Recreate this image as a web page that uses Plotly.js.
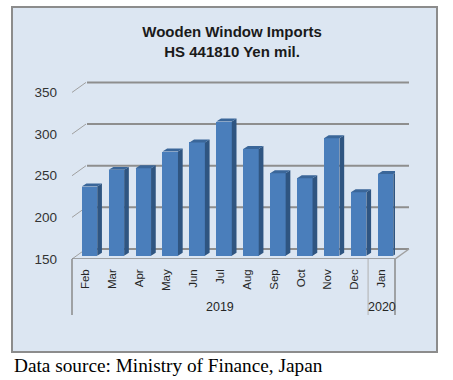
<!DOCTYPE html>
<html>
<head>
<meta charset="utf-8">
<script src="https://cdn.plot.ly/plotly-3.0.1.min.js"></script>
<style>html,body{margin:0;padding:0;background:#fff;}#chart{width:453px;height:380px;}</style>
</head>
<body>
<div id="chart"></div>
<script>
// ---- data ----
const months = ["Feb","Mar","Apr","May","Jun","Jul","Aug","Sep","Oct","Nov","Dec","Jan"];
const years = ["2019","2020"];
const yearOfMonth = ["2019","2019","2019","2019","2019","2019","2019","2019","2019","2019","2019","2020"];
const imports = [233, 253, 255, 275, 286, 311, 278, 249, 243, 291, 226, 248];
const yTicks = [150, 200, 250, 300, 350];

// ---- geometry helpers (styles only) ----
const W = 453, H = 380;
const mL = 72, mR = 58, mT = 80, mB = 121;
const plotW = W - mL - mR, plotH = H - mT - mB;
const yMin = 150, yMax = 364.9;           // front (label) axis
const barShift = 4;                        // bars sit slightly behind the front floor edge
const barOff = -0.139, barW = 0.576;
const depthX = 0.175, depthY = 3.6;
const wallDx = 15, wallDy = 12;           // back wall offset (px, units)
const px2paperX = p => (p - mL) / plotW;
const py2paperY = p => (H - mB - p) / plotH;

const xs = months.map((m, i) => i);

// side & top faces computed from the data
const sideX = [], sideY = [], topX = [], topY = [];
imports.forEach((v, i) => {
  const l = i + barOff, r = i + barOff + barW;
  sideX.push(r, r + depthX, r + depthX, r, r, null);
  sideY.push(yMin, yMin + depthY, v + depthY, v, yMin, null);
  topX.push(l, l + depthX, r + depthX, r, l, null);
  topY.push(v, v + depthY, v + depthY, v, v, null);
});

const traces = [
  {type: 'bar', x: xs, y: imports.map(v => v - yMin), base: yMin,
   offset: barOff, width: barW, marker: {color: '#4a7ebb', line: {width: 0}},
   hoverinfo: 'skip', xaxis: 'x', yaxis: 'y'},
  {type: 'scatter', mode: 'lines', x: sideX, y: sideY, fill: 'toself',
   fillcolor: '#2f5581', line: {width: 0, color: '#2f5581'}, hoverinfo: 'skip', xaxis: 'x', yaxis: 'y'},
  {type: 'scatter', mode: 'lines', x: topX, y: topY, fill: 'toself',
   fillcolor: '#3a6699', line: {width: 0, color: '#3a6699'}, hoverinfo: 'skip', xaxis: 'x', yaxis: 'y'},
  // invisible trace so the label axis is drawn
  {type: 'scatter', mode: 'markers', x: [0], y: [yMin], marker: {opacity: 0}, hoverinfo: 'skip',
   xaxis: 'x', yaxis: 'y2', showlegend: false}
];

const shapes = [];
// chart box
shapes.push({type: 'rect', xref: 'paper', yref: 'paper', layer: 'below',
  x0: px2paperX(12), x1: px2paperX(437), y0: py2paperY(352), y1: py2paperY(7),
  fillcolor: '#dce6f2', line: {color: '#8c8c8c', width: 2}});
// back-wall gridlines + left diagonals
yTicks.forEach(v => {
  shapes.push({type: 'line', xref: 'paper', yref: 'y2', layer: 'below',
    x0: px2paperX(mL + wallDx), x1: px2paperX(409), y0: v + wallDy, y1: v + wallDy,
    line: {color: '#8e8e8e', width: 2}});
  shapes.push({type: 'line', xref: 'paper', yref: 'y2', layer: 'below',
    x0: 0, x1: px2paperX(mL + wallDx - 1), y0: v, y1: v + wallDy,
    line: {color: '#a0a0a0', width: 1}});
});
// floor front edge and right diagonal
shapes.push({type: 'line', xref: 'paper', yref: 'y2', layer: 'below',
  x0: 0, x1: 1, y0: yMin, y1: yMin, line: {color: '#8a8a8a', width: 1.5}});
shapes.push({type: 'line', xref: 'paper', yref: 'y2', layer: 'below',
  x0: 1, x1: px2paperX(409), y0: yMin, y1: yMin + wallDy, line: {color: '#a0a0a0', width: 1.5}});
// category box verticals
const boxBottom = py2paperY(315);
shapes.push({type: 'line', xref: 'paper', yref: 'paper', x0: 0, x1: 0, y0: 0, y1: boxBottom,
  line: {color: '#8a8a8a', width: 1.5}});
shapes.push({type: 'line', xref: 'paper', yref: 'paper', x0: 1, x1: 1, y0: 0, y1: boxBottom,
  line: {color: '#8a8a8a', width: 1.5}});
// divider between years
const firstNewYear = yearOfMonth.indexOf(years[1]);
shapes.push({type: 'line', xref: 'x', yref: 'paper', x0: firstNewYear - 0.5, x1: firstNewYear - 0.5,
  y0: 0, y1: boxBottom, line: {color: '#b0b0b0', width: 1}});

const annotations = [];
years.forEach(yr => {
  const idx = xs.filter(i => yearOfMonth[i] === yr);
  const mid = (idx[0] + idx[idx.length - 1]) / 2;
  annotations.push({xref: 'x', yref: 'paper', x: mid, y: py2paperY(307), text: yr,
    showarrow: false, xanchor: 'center', yanchor: 'middle',
    font: {family: 'Liberation Sans, Arial, sans-serif', size: 12.5, color: '#262626'}});
});
annotations.push({xref: 'paper', yref: 'paper', x: px2paperX(12), y: py2paperY(365),
  text: 'Data source: Ministry of Finance, Japan', showarrow: false, xanchor: 'left', yanchor: 'middle',
  font: {family: 'Liberation Serif, Times New Roman, serif', size: 19.3, color: '#000'}});

const layout = {
  width: W, height: H,
  margin: {l: mL, r: mR, t: mT, b: mB, pad: 0},
  paper_bgcolor: '#ffffff', plot_bgcolor: 'rgba(0,0,0,0)',
  showlegend: false, bargap: 0,
  title: {text: '<b>Wooden Window Imports<br>HS 441810 Yen mil.</b>',
    x: 224.5 / W, xanchor: 'center', xref: 'paper',
    y: 1 - 37 / H, yanchor: 'middle', yref: 'container',
    font: {family: 'Liberation Sans, Arial, sans-serif', size: 15, color: '#1a1a1a'}},
  xaxis: {range: [-0.5, months.length - 0.5], tickvals: xs, ticktext: months, tickangle: -90,
    showgrid: false, zeroline: false, showline: false, ticks: '', ticklabelstandoff: 7,
    tickfont: {family: 'Liberation Sans, Arial, sans-serif', size: 11.5, color: '#262626'}, fixedrange: true},
  yaxis: {range: [yMin - barShift, yMax - barShift], showgrid: false, zeroline: false,
    showline: false, showticklabels: false, ticks: '', fixedrange: true},
  yaxis2: {range: [yMin, yMax], overlaying: 'y', side: 'left', anchor: 'x', tickvals: yTicks,
    showgrid: false, zeroline: false, showline: false, ticks: '', ticklabelstandoff: 14,
    tickfont: {family: 'Liberation Sans, Arial, sans-serif', size: 13.5, color: '#333333'}, fixedrange: true},
  shapes: shapes,
  annotations: annotations
};

Plotly.newPlot('chart', traces, layout, {staticPlot: true, displayModeBar: false});
</script>
</body>
</html>
